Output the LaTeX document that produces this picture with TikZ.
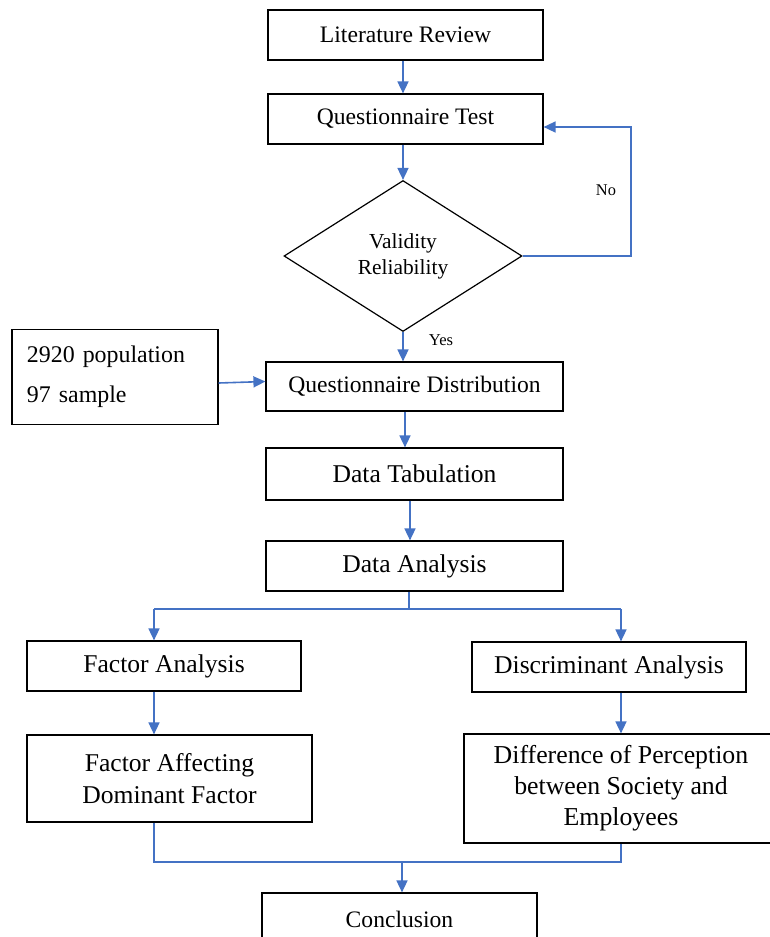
\documentclass[tikz,border=0pt]{standalone}
\usepackage{fontspec}
\setmainfont{Liberation Serif}
\usetikzlibrary{shapes.geometric,arrows.meta,calc}
\definecolor{flowblue}{RGB}{68,114,196}
\newcommand{\boxfont}[2] {%
  \fontsize{#1}{#2}\selectfont}

\begin{document}
\begin{tikzpicture}[x=1pt,y=-1pt,
	box/.style={draw,line width=1.2pt,minimum width=275pt,minimum height=50pt,inner sep=0pt,align=center,font={\boxfont{23.6}{28}}},
	bigbox/.style={box,minimum width=297pt,font={\boxfont{25.6}{32}}},
	flow/.style={draw=flowblue,line width=1.6pt,-{Triangle[length=12pt,width=11pt]}},
	joinline/.style={draw=flowblue,line width=1.6pt}]
					\useasboundingbox (0,0) rectangle (769,937);
					%\draw[help lines] (0,0) grid[step=50] (769,937);
					%BOXES
					\node[box] (lit) at (405.5,35) {Literature Review};
					\node[box] (test) at (405.5,119) {Questionnaire Test};
					\node[draw,diamond,line width=1.2pt,minimum width=238pt,minimum height=151pt,inner sep=0pt,align=center,font={\boxfont{21.4}{26}}] (dec) at (403,256) {Validity\\Reliability};
					\node[box,minimum width=206pt,minimum height=95pt,text width=176pt,align=left,font={\boxfont{23.9}{40}}] (pop) at (115,377) {2920 population\\97 sample};
					\node[box,minimum width=297pt,minimum height=49pt] (dist) at (414.5,386.5) {Questionnaire Distribution};
					\node[bigbox,minimum height=52pt] (tab) at (414.5,474) {Data Tabulation};
					\node[bigbox] (ana) at (414.5,566) {Data Analysis};
					\node[bigbox,minimum width=274pt] (fa) at (164,666) {Factor Analysis};
					\node[bigbox,minimum width=274pt] (da) at (609,667) {Discriminant Analysis};
					\node[bigbox,minimum width=285pt,minimum height=87pt] (fad) at (169.5,778.5) {Factor Affecting\\Dominant Factor};
					\node[bigbox,minimum width=314pt,minimum height=109pt,font={\boxfont{25.8}{31}}] (diff) at (621,788.5) {Difference of Perception\\between Society and\\Employees};
					\node[box,minimum height=52pt] (concl) at (399.5,919) {Conclusion};
					\node[font={\boxfont{16.4}{20}}] (no) at (606,190) {No};
					\node[font={\boxfont{16.6}{20}}] (yes) at (441,340) {Yes};
					%ARROWS
					\draw[flow] (lit.south -| dec.north) -- (test.north -| dec.north);
					\draw[flow] (test.south -| dec.north) -- (dec.north);
					\coordinate (nocorner) at (631,256);
					\coordinate (retest) at ([yshift=-8pt]test.east);
					\draw[flow] (dec.east) -- (nocorner) -- (nocorner |- retest) -- (retest);
					\draw[flow] (dec.south) -- (dec.south |- dist.north);
					\draw[flow] ([yshift=-6pt]pop.east) -- ([yshift=5pt]dist.west);
					\draw[flow] ([xshift=-9.5pt]dist.south) -- ([xshift=-9.5pt]tab.north);
					\draw[flow] ([xshift=-4.5pt]tab.south) -- ([xshift=-4.5pt]ana.north);
					\coordinate (split) at (409,609);
					\coordinate (lcol) at (154,609);
					\coordinate (rcol) at (621,609);
					\draw[joinline] (ana.south -| split) -- (split);
					\draw[joinline] (lcol) -- (rcol);
					\draw[flow] (lcol) -- (lcol |- fa.north);
					\draw[flow] (rcol) -- (rcol |- da.north);
					\draw[flow] (fa.south -| lcol) -- (fad.north -| lcol);
					\draw[flow] (da.south -| rcol) -- (diff.north -| rcol);
					\coordinate (ljoin) at (154,862);
					\coordinate (rjoin) at (621,862);
					\coordinate (merge) at (402,862);
					\draw[joinline] (fad.south -| ljoin) -- (ljoin) -- (rjoin) -- (diff.south -| rjoin);
					\draw[flow] (merge) -- (merge |- concl.north);
\end{tikzpicture}
\end{document}
